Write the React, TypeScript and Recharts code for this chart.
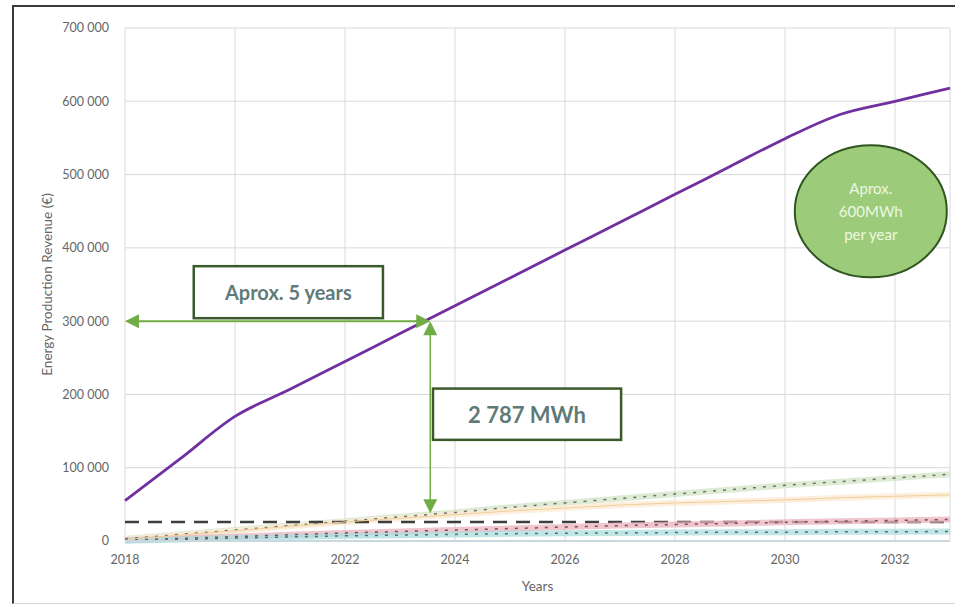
import React from 'react';
import {
  ComposedChart,
  Line,
  XAxis,
  YAxis,
  CartesianGrid,
  ReferenceLine,
  ReferenceArea,
  ReferenceDot,
} from 'recharts';

// Yearly cumulative figures
const years = [2018, 2019, 2020, 2021, 2022, 2023, 2024, 2025, 2026, 2027, 2028, 2029, 2030, 2031, 2032, 2033];
const totalRevenue = [55000, 112000, 170000, 207000, 245000, 283000, 321000, 359000, 397000, 435000, 473000, 511000, 549000, 582000, 600000, 618000];
const greySeries = [3000, 9000, 15000, 21000, 27000, 33000, 39000, 46000, 52000, 58000, 64000, 70000, 76000, 81000, 86000, 91000];
const orangeSeries = [2000, 8000, 14000, 20000, 26000, 31000, 36000, 41000, 45000, 49000, 52000, 54000, 56000, 59000, 61000, 63000];
const pinkSeries = [1000, 3500, 6000, 8500, 11000, 13000, 15000, 17000, 19000, 21000, 22500, 24000, 25500, 27000, 28000, 29500];
const tealSeries = [500, 2000, 4000, 5500, 7000, 8000, 9000, 10000, 10500, 11000, 11500, 12000, 12000, 12500, 12500, 13000];
const baseline = [26000, 26000, 26000, 26000, 26000, 26000, 26000, 26000, 26000, 26000, 26000, 26000, 26000, 26000, 26000, 26000];

const xTicks = [2018, 2020, 2022, 2024, 2026, 2028, 2030, 2032];
const yTicks = [0, 100000, 200000, 300000, 400000, 500000, 600000, 700000];

// break-even point
const breakEvenYear = 2023.55;
const breakEvenValue = 300000;
const breakEvenFloor = 38000;

const data = years.map((year, i) => ({
  year,
  total: totalRevenue[i],
  grey: greySeries[i],
  orange: orangeSeries[i],
  pink: pinkSeries[i],
  teal: tealSeries[i],
  base: baseline[i],
}));

const FONT = 'Lato, "Open Sans", sans-serif';
const ARROW = '#70ad47';
const BOX_BORDER = '#3b5a2a';
const BOX_TEXT = '#5f7b79';

const fmt = (v: number) => String(v).replace(/\B(?=(\d{3})+(?!\d))/g, ' ');

const arrowHead = (x: number, y: number, dir: 'left' | 'right' | 'up' | 'down') => {
  const l = 14;
  const w = 7;
  let pts = '';
  if (dir === 'left') pts = `${x},${y} ${x + l},${y - w} ${x + l},${y + w}`;
  if (dir === 'right') pts = `${x},${y} ${x - l},${y - w} ${x - l},${y + w}`;
  if (dir === 'up') pts = `${x},${y} ${x - w},${y + l} ${x + w},${y + l}`;
  if (dir === 'down') pts = `${x},${y} ${x - w},${y - l} ${x + w},${y - l}`;
  return <polygon points={pts} fill={ARROW} />;
};

const HArrow = (props: any) => {
  const { x1, y1, x2, y2 } = props;
  return (
    <g>
      <line x1={x1 + 4} y1={y1} x2={x2 - 4} y2={y2} stroke={ARROW} strokeWidth={2} />
      {arrowHead(x1, y1, 'left')}
      {arrowHead(x2, y2, 'right')}
    </g>
  );
};

const VArrow = (props: any) => {
  const { x1, y1, x2, y2 } = props;
  const top = Math.min(y1, y2);
  const bottom = Math.max(y1, y2);
  return (
    <g>
      <line x1={x1} y1={top + 4} x2={x2} y2={bottom - 4} stroke={ARROW} strokeWidth={1.5} />
      {arrowHead(x1, top, 'up')}
      {arrowHead(x1, bottom, 'down')}
    </g>
  );
};

const makeBox = (text: string, size: number) => (props: any) => {
  const { x, y, width, height } = props;
  return (
    <g>
      <rect x={x} y={y} width={width} height={height} fill="#ffffff" stroke={BOX_BORDER} strokeWidth={2.5} />
      <text
        x={x + width / 2}
        y={y + height / 2}
        textAnchor="middle"
        dominantBaseline="central"
        fill={BOX_TEXT}
        fontFamily={FONT}
        fontWeight={700}
        fontSize={size}
      >
        {text}
      </text>
    </g>
  );
};

const Bubble = (props: any) => {
  const { cx, cy } = props;
  const lines = ['Aprox.', '600MWh', 'per year'];
  return (
    <g>
      <ellipse cx={cx} cy={cy} rx={76} ry={66} fill="#9ccc79" stroke="#2f5520" strokeWidth={2} />
      {lines.map((t, i) => (
        <text
          key={t}
          x={cx}
          y={cy + (i - 1) * 23}
          textAnchor="middle"
          dominantBaseline="central"
          fill="#eef7e4"
          fontFamily={FONT}
          fontSize={15}
        >
          {t}
        </text>
      ))}
    </g>
  );
};

export default function App() {
  return (
    <div
      style={{
        position: 'absolute',
        left: 0,
        top: 0,
        width: 955,
        height: 607,
        background: '#fff',
      }}
    >
      <div
        style={{
          position: 'absolute',
          left: 12,
          top: 5,
          width: 960,
          height: 596,
          borderTop: '2px solid #3a3a3a',
          borderLeft: '2px solid #3a3a3a',
          borderBottom: '1px solid #d8d8d8',
        }}
      />
      <div style={{ position: 'absolute', left: 0, top: 0 }}>
        <ComposedChart width={955} height={607} data={data} margin={{ top: 28, right: 5, bottom: 36, left: 0 }}>
          <CartesianGrid stroke="#d9d9d9" strokeWidth={1} />
          <XAxis
            dataKey="year"
            type="number"
            domain={[2018, 2033]}
            ticks={xTicks}
            axisLine={{ stroke: '#c9d7df', strokeWidth: 2 }}
            tickLine={false}
            tickMargin={8}
            tick={{ fill: '#666666', fontSize: 12.5, fontFamily: FONT }}
            height={30}
            label={{ value: 'Years', position: 'bottom', offset: 10, fill: '#666666', fontSize: 13.5, fontFamily: FONT }}
          />
          <YAxis
            type="number"
            domain={[0, 700000]}
            ticks={yTicks}
            width={125}
            axisLine={false}
            tickLine={false}
            tickMargin={10}
            tickFormatter={fmt}
            tick={{ fill: '#666666', fontSize: 12.5, fontFamily: FONT }}
            label={{
              value: 'Energy Production Revenue (€)',
              angle: -90,
              position: 'center',
              dx: -15,
              fill: '#666666',
              fontSize: 13.5,
              fontFamily: FONT,
            }}
          />

          {/* lower series: soft glow with a dotted core */}
          <Line dataKey="grey" stroke="#cfe3c2" strokeOpacity={0.7} strokeWidth={6} dot={false} isAnimationActive={false} />
          <Line dataKey="orange" stroke="#fcebd4" strokeOpacity={0.8} strokeWidth={6} dot={false} isAnimationActive={false} />
          <Line dataKey="base" stroke="#3f3f3f" strokeWidth={2.5} strokeDasharray="14 9" dot={false} isAnimationActive={false} />
          <Line dataKey="pink" stroke="#eab3bd" strokeOpacity={0.75} strokeWidth={6} dot={false} isAnimationActive={false} />
          <Line dataKey="teal" stroke="#a9dcdc" strokeOpacity={0.75} strokeWidth={6} dot={false} isAnimationActive={false} />
          <Line dataKey="grey" stroke="#6f6f6f" strokeWidth={1.5} strokeDasharray="3 7" dot={false} isAnimationActive={false} />
          <Line dataKey="orange" stroke="#f3cd98" strokeWidth={1} dot={false} isAnimationActive={false} />
          <Line dataKey="pink" stroke="#7d4a5a" strokeWidth={1.5} strokeDasharray="3 7" dot={false} isAnimationActive={false} />
          <Line dataKey="teal" stroke="#4d7070" strokeWidth={1.5} strokeDasharray="3 7" dot={false} isAnimationActive={false} />

          <Line
            type="monotone"
            dataKey="total"
            stroke="#7030a0"
            strokeWidth={2.8}
            dot={false}
            isAnimationActive={false}
          />

          <ReferenceLine
            segment={[
              { x: 2018, y: breakEvenValue },
              { x: breakEvenYear, y: breakEvenValue },
            ]}
            shape={HArrow}
            ifOverflow="visible"
          />
          <ReferenceLine
            segment={[
              { x: breakEvenYear, y: breakEvenValue },
              { x: breakEvenYear, y: breakEvenFloor },
            ]}
            shape={VArrow}
            ifOverflow="visible"
          />
          <ReferenceArea
            x1={2019.25}
            x2={2022.69}
            y1={304000}
            y2={375000}
            shape={makeBox('Aprox. 5 years', 20)}
            ifOverflow="visible"
          />
          <ReferenceArea
            x1={2023.6}
            x2={2027.02}
            y1={138000}
            y2={208000}
            shape={makeBox('2 787 MWh', 22)}
            ifOverflow="visible"
          />
          <ReferenceDot x={2031.56} y={450000} r={1} shape={Bubble} ifOverflow="visible" />
        </ComposedChart>
      </div>
    </div>
  );
}
